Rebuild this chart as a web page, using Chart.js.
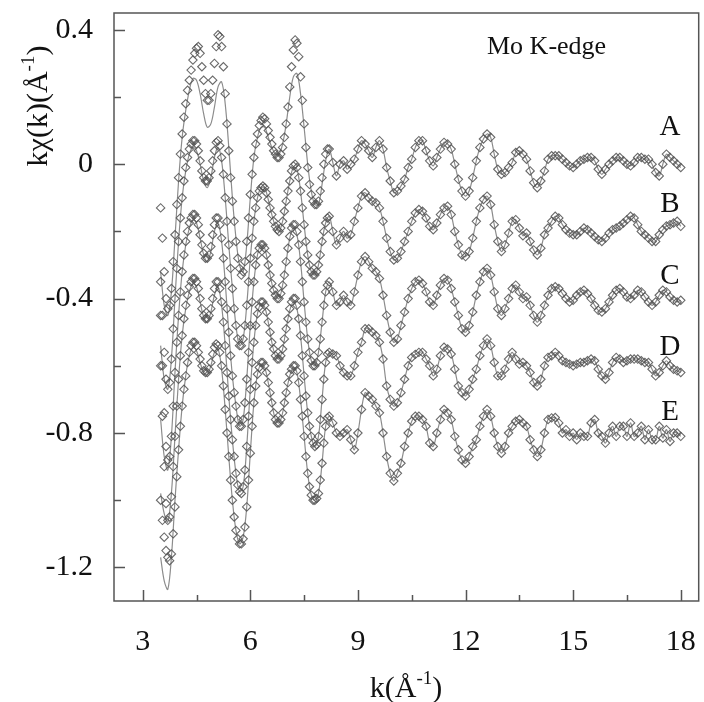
<!DOCTYPE html>
<html><head><meta charset="utf-8">
<script src="https://cdn.jsdelivr.net/npm/chart.js@4.4.1/dist/chart.umd.min.js"></script>
<style>html,body{margin:0;padding:0;background:#fff}#wrap{width:704px;height:702px;position:relative}</style>
</head><body><div id="wrap"><canvas id="c" width="704" height="702"></canvas></div>
<script>
// ---- data (relative to each curve's own vertical offset) ----
const seriesNames = ['A', 'B', 'C', 'D', 'E'];
const offsets = [0, -0.2, -0.4, -0.6, -0.8];
const xTickLabels = ['3', '6', '9', '12', '15', '18'];
const yTickLabels = ['0.4', '0', '-0.4', '-0.8', '-1.2'];

// low-k data: k = 3.50 ... 8.15, step 0.05
const lowA = [-0.13,-0.22,-0.32,-0.40,-0.43,-0.42,-0.37,-0.29,-0.21,-0.12,-0.04,0.03,0.09,0.14,0.18,0.22,0.25,0.28,0.31,0.33,0.345,0.35,0.33,0.29,0.25,0.21,0.19,0.19,0.21,0.25,0.30,0.35,0.385,0.38,0.35,0.29,0.21,0.12,0.04,-0.04,-0.11,-0.17,-0.23,-0.28,-0.31,-0.33,-0.32,-0.29,-0.23,-0.16,-0.09,-0.03,0.02,0.06,0.09,0.115,0.13,0.14,0.135,0.12,0.10,0.08,0.06,0.04,0.03,0.02,0.02,0.03,0.05,0.08,0.12,0.17,0.23,0.29,0.34,0.37,0.36,0.32,0.26,0.19,0.12,0.05,-0.01,-0.06,-0.09,-0.11,-0.12,-0.12,-0.11,-0.08,-0.04,0.0,0.03,0.045];
const lowB = [-0.15,-0.25,-0.36,-0.44,-0.47,-0.45,-0.38,-0.29,-0.2,-0.11,-0.03,0.04,0.1,0.15,0.19,0.22,0.245,0.26,0.27,0.27,0.26,0.24,0.21,0.18,0.16,0.15,0.15,0.16,0.18,0.21,0.24,0.265,0.27,0.255,0.22,0.17,0.1,0.03,-0.04,-0.11,-0.17,-0.23,-0.28,-0.32,-0.34,-0.34,-0.32,-0.28,-0.22,-0.15,-0.08,-0.02,0.03,0.07,0.1,0.12,0.13,0.135,0.13,0.115,0.095,0.07,0.05,0.03,0.015,0.005,0.0,0.01,0.03,0.06,0.09,0.12,0.15,0.18,0.195,0.2,0.19,0.16,0.12,0.07,0.02,-0.03,-0.07,-0.1,-0.12,-0.13,-0.13,-0.12,-0.1,-0.07,-0.03,0.0,0.025,0.04];
const lowC = [-0.05,-0.2,-0.34,-0.44,-0.48,-0.47,-0.41,-0.32,-0.22,-0.13,-0.05,0.02,0.08,0.13,0.17,0.2,0.225,0.24,0.25,0.25,0.24,0.22,0.19,0.16,0.135,0.12,0.12,0.13,0.155,0.19,0.22,0.24,0.24,0.22,0.18,0.12,0.05,-0.03,-0.1,-0.17,-0.23,-0.28,-0.32,-0.36,-0.38,-0.38,-0.36,-0.31,-0.24,-0.16,-0.08,-0.01,0.05,0.1,0.13,0.15,0.16,0.16,0.15,0.13,0.1,0.07,0.045,0.025,0.01,0.0,0.0,0.015,0.04,0.07,0.11,0.15,0.185,0.21,0.22,0.22,0.2,0.16,0.11,0.05,-0.01,-0.07,-0.12,-0.16,-0.185,-0.2,-0.2,-0.19,-0.16,-0.12,-0.07,-0.02,0.02,0.04];
const lowD = [0.0,-0.15,-0.3,-0.41,-0.46,-0.45,-0.39,-0.3,-0.21,-0.12,-0.04,0.03,0.09,0.14,0.18,0.21,0.235,0.25,0.26,0.26,0.25,0.23,0.2,0.17,0.15,0.14,0.14,0.15,0.17,0.2,0.23,0.25,0.25,0.23,0.19,0.13,0.06,-0.02,-0.09,-0.16,-0.22,-0.27,-0.32,-0.355,-0.375,-0.38,-0.36,-0.31,-0.24,-0.15,-0.07,0.01,0.07,0.12,0.155,0.175,0.19,0.19,0.18,0.16,0.13,0.1,0.07,0.05,0.03,0.02,0.02,0.03,0.05,0.08,0.11,0.14,0.17,0.19,0.2,0.2,0.18,0.14,0.09,0.03,-0.03,-0.09,-0.14,-0.18,-0.21,-0.23,-0.24,-0.235,-0.21,-0.16,-0.1,-0.04,0.01,0.035];
const lowE = [-0.2,-0.26,-0.31,-0.35,-0.37,-0.38,-0.36,-0.3,-0.22,-0.13,-0.05,0.02,0.08,0.13,0.17,0.21,0.24,0.26,0.27,0.27,0.26,0.24,0.22,0.2,0.185,0.18,0.18,0.19,0.21,0.235,0.255,0.265,0.26,0.24,0.2,0.14,0.07,0.0,-0.07,-0.14,-0.2,-0.25,-0.29,-0.315,-0.33,-0.33,-0.315,-0.28,-0.22,-0.14,-0.06,0.02,0.09,0.14,0.175,0.195,0.21,0.21,0.2,0.18,0.15,0.12,0.09,0.06,0.04,0.03,0.03,0.04,0.06,0.09,0.12,0.15,0.175,0.19,0.2,0.2,0.185,0.15,0.1,0.05,-0.01,-0.07,-0.12,-0.16,-0.185,-0.2,-0.2,-0.195,-0.18,-0.14,-0.09,-0.03,0.02,0.045];

// high-k data: k = 8.2 ... 18.0, step 0.1
const highA = [0.045,0.005,-0.035,0.0,0.01,-0.015,0.0,0.015,0.045,0.07,0.06,0.04,0.02,0.05,0.07,0.045,-0.01,-0.05,-0.085,-0.08,-0.065,-0.045,-0.01,0.015,0.05,0.07,0.07,0.04,0.01,-0.005,0.02,0.045,0.065,0.06,0.045,0.0,-0.045,-0.08,-0.095,-0.08,-0.04,0.01,0.05,0.075,0.09,0.08,0.03,-0.015,-0.03,-0.025,-0.01,0.005,0.035,0.04,0.03,0.015,-0.02,-0.055,-0.07,-0.05,-0.02,0.015,0.025,0.025,0.025,0.015,0.005,-0.005,-0.01,0.0,0.01,0.015,0.02,0.02,0.01,-0.015,-0.03,-0.015,0.0,0.01,0.02,0.02,0.01,0.0,-0.005,0.005,0.02,0.02,0.015,0.015,0.0,-0.025,-0.035,0.0,0.03,0.02,0.01,0.0,-0.01];
const highB = [0.045,0.0,-0.04,-0.02,0.0,-0.02,-0.01,0.03,0.07,0.105,0.115,0.1,0.09,0.085,0.07,0.03,-0.02,-0.06,-0.085,-0.08,-0.06,-0.03,0.0,0.03,0.055,0.065,0.06,0.04,0.015,0.005,0.025,0.05,0.07,0.075,0.05,0.0,-0.04,-0.07,-0.075,-0.06,-0.02,0.03,0.07,0.095,0.105,0.08,0.02,-0.03,-0.06,-0.04,-0.005,0.03,0.035,0.01,-0.013,-0.005,-0.03,-0.055,-0.07,-0.05,-0.01,0.01,0.03,0.045,0.04,0.02,0.005,-0.005,-0.01,-0.01,0.0,0.01,0.005,-0.005,-0.015,-0.025,-0.03,-0.02,-0.005,0.005,0.01,0.016,0.025,0.035,0.045,0.04,0.02,0.0,-0.01,-0.02,-0.03,-0.03,-0.01,0.005,0.016,0.02,0.025,0.03,0.015];
const highC = [0.05,0.02,-0.02,-0.01,0.01,-0.01,-0.02,0.02,0.07,0.11,0.125,0.11,0.09,0.08,0.06,0.01,-0.05,-0.1,-0.13,-0.12,-0.08,-0.04,0.0,0.03,0.05,0.055,0.045,0.02,-0.01,-0.02,0.01,0.04,0.06,0.055,0.03,-0.01,-0.05,-0.09,-0.1,-0.08,-0.04,0.01,0.05,0.08,0.09,0.07,0.02,-0.03,-0.05,-0.03,0.0,0.03,0.04,0.02,0.0,0.005,-0.02,-0.05,-0.07,-0.05,-0.02,0.01,0.03,0.035,0.03,0.015,0.0,-0.01,-0.005,0.01,0.02,0.025,0.015,0.0,-0.02,-0.035,-0.04,-0.03,-0.01,0.01,0.025,0.03,0.02,0.005,0.0,0.01,0.025,0.02,0.005,-0.01,-0.02,-0.01,0.01,0.025,0.02,0.005,-0.005,-0.01,-0.005];
const highD = [0.04,0.035,0.03,0.0,-0.02,-0.03,-0.03,0.0,0.04,0.07,0.11,0.11,0.1,0.09,0.07,0.02,-0.06,-0.1,-0.12,-0.11,-0.08,-0.04,0.0,0.025,0.034,0.04,0.04,0.02,0.0,-0.03,-0.01,0.03,0.055,0.05,0.035,-0.01,-0.06,-0.08,-0.09,-0.07,-0.04,-0.01,0.03,0.06,0.08,0.06,0.01,-0.03,-0.03,-0.01,0.02,0.04,0.02,0.005,0.01,0.0,-0.02,-0.05,-0.06,-0.04,0.0,0.025,0.03,0.04,0.03,0.015,0.01,0.005,0.0,0.005,0.01,0.01,0.015,0.02,0.015,-0.01,-0.03,-0.04,-0.02,0.01,0.025,0.02,0.01,0.015,0.02,0.02,0.02,0.015,0.01,0.01,-0.01,-0.03,-0.02,0.0,0.015,0.0,-0.01,-0.015,-0.02];
const highE = [0.05,0.03,0.0,-0.01,0.0,0.01,-0.02,-0.05,0.0,0.07,0.12,0.11,0.1,0.08,0.06,0.0,-0.07,-0.12,-0.143,-0.12,-0.09,-0.04,0.0,0.035,0.05,0.05,0.04,0.02,-0.03,-0.04,0.0,0.04,0.07,0.06,0.04,-0.01,-0.05,-0.08,-0.09,-0.07,-0.04,-0.02,0.02,0.05,0.07,0.05,0.0,-0.04,-0.06,-0.04,0.0,0.02,0.035,0.04,0.03,0.02,-0.02,-0.05,-0.07,-0.05,0.0,0.04,0.045,0.046,0.03,0.0,0.01,-0.01,0.0,-0.02,0.0,-0.01,-0.01,0.03,0.04,0.0,-0.01,-0.03,0.0,0.02,-0.01,0.02,0.02,-0.01,0.03,-0.01,0.0,0.02,-0.02,0.01,-0.02,-0.02,0.02,-0.015,0.01,-0.025,0.0,0.0,-0.01];

// fitted curves at low k: k = 3.5 ... 8.1, step 0.1 (above 8.1 the fit follows the data)
const fitA = [-0.32,-0.42,-0.45,-0.38,-0.22,-0.05,0.08,0.16,0.22,0.255,0.25,0.21,0.15,0.11,0.12,0.17,0.23,0.245,0.18,0.05,-0.10,-0.22,-0.30,-0.32,-0.24,-0.10,0.02,0.08,0.11,0.11,0.08,0.05,0.03,0.03,0.06,0.12,0.20,0.26,0.27,0.21,0.11,0.0,-0.08,-0.12,-0.12,-0.06,0.01];
const fitB = [-0.34,-0.44,-0.47,-0.38,-0.2,-0.03,0.1,0.18,0.23,0.25,0.24,0.2,0.15,0.13,0.16,0.22,0.25,0.21,0.1,-0.04,-0.17,-0.28,-0.34,-0.32,-0.22,-0.08,0.03,0.1,0.13,0.13,0.095,0.05,0.015,0.0,0.03,0.09,0.15,0.19,0.185,0.12,0.02,-0.07,-0.12,-0.13,-0.1,-0.03,0.025];
const fitC = [-0.36,-0.47,-0.51,-0.41,-0.22,-0.05,0.08,0.16,0.21,0.235,0.225,0.18,0.13,0.11,0.14,0.2,0.225,0.17,0.05,-0.1,-0.23,-0.32,-0.38,-0.36,-0.24,-0.08,0.05,0.13,0.16,0.15,0.1,0.045,0.01,0.0,0.04,0.11,0.18,0.21,0.19,0.11,-0.01,-0.12,-0.185,-0.2,-0.16,-0.07,0.02];
const fitD = [-0.38,-0.44,-0.465,-0.38,-0.21,-0.04,0.09,0.17,0.22,0.245,0.235,0.19,0.145,0.13,0.16,0.21,0.235,0.18,0.06,-0.09,-0.22,-0.32,-0.375,-0.36,-0.24,-0.07,0.07,0.155,0.185,0.175,0.13,0.07,0.03,0.02,0.05,0.11,0.165,0.19,0.17,0.09,-0.03,-0.14,-0.21,-0.24,-0.21,-0.1,0.01];
const fitE = [-0.37,-0.44,-0.465,-0.37,-0.2,-0.05,0.08,0.17,0.23,0.255,0.245,0.21,0.18,0.175,0.2,0.24,0.25,0.19,0.07,-0.07,-0.2,-0.29,-0.33,-0.31,-0.22,-0.06,0.09,0.175,0.205,0.195,0.15,0.09,0.04,0.03,0.06,0.12,0.17,0.195,0.18,0.1,-0.01,-0.12,-0.185,-0.2,-0.18,-0.09,0.02];

const lowData = [lowA, lowB, lowC, lowD, lowE];
const highData = [highA, highB, highC, highD, highE];
const fitData = [fitA, fitB, fitC, fitD, fitE];
const labelY = [0.11, -0.12, -0.335, -0.545, -0.74];   // y of the A..E letters

// ---- build datasets ----
const r2 = v => Math.round(v * 100) / 100;
function pts(arr, k0, dk, off) { return arr.map((v, i) => ({ x: r2(k0 + i * dk), y: v + off })); }

const datasets = [];
seriesNames.forEach((name, s) => {
  const off = offsets[s];
  const dataPts = pts(lowData[s], 3.5, 0.05, off).concat(pts(highData[s], 8.2, 0.1, off));
  const fitPts = pts(fitData[s], 3.5, 0.1, off).concat(pts(highData[s], 8.2, 0.1, off));
  datasets.push({
    label: name + ' fit', data: fitPts, showLine: true, pointRadius: 0,
    borderColor: '#8c8c8c', borderWidth: 1.2, tension: 0.35, fill: false, order: 2
  });
  datasets.push({
    label: name, data: dataPts, showLine: false, pointStyle: 'rectRot', pointRadius: 4.2,
    pointBorderWidth: 1.1, pointBorderColor: 'rgba(85,85,85,0.88)', pointBackgroundColor: 'rgba(0,0,0,0)', order: 1
  });
});

const SERIF = '"Liberation Serif", "Times New Roman", serif';

const framePlugin = {
  id: 'frame',
  afterDraw(chart) {
    const { ctx, chartArea: a, scales: { x, y } } = chart;
    ctx.save();
    ctx.strokeStyle = '#555';
    ctx.lineWidth = 1.5;
    ctx.strokeRect(a.left, a.top, a.right - a.left, a.bottom - a.top);
    ctx.beginPath();
    x.ticks.forEach(t => {
      const px = Math.round(x.getPixelForValue(t.value)) + 0.5;
      const major = Math.abs(t.value / 3 - Math.round(t.value / 3)) < 1e-6;
      ctx.moveTo(px, a.bottom); ctx.lineTo(px, a.bottom - (major ? 11 : 6));
    });
    y.ticks.forEach(t => {
      const py = Math.round(y.getPixelForValue(t.value)) + 0.5;
      const major = Math.abs(t.value / 0.4 - Math.round(t.value / 0.4)) < 1e-6;
      ctx.moveTo(a.left, py); ctx.lineTo(a.left + (major ? 11 : 7), py);
    });
    ctx.stroke();

    ctx.fillStyle = '#111';
    ctx.font = '29px ' + SERIF;
    ctx.textAlign = 'center'; ctx.textBaseline = 'middle';
    seriesNames.forEach((n, s) => ctx.fillText(n, x.getPixelForValue(17.7), y.getPixelForValue(labelY[s])));
    ctx.textAlign = 'left'; ctx.textBaseline = 'alphabetic';
    ctx.font = '26px ' + SERIF;
    ctx.fillText('Mo K-edge', 487, 54);

    function measure(base, sup, close, size) {
      ctx.font = size + 'px ' + SERIF;
      const w1 = ctx.measureText(base).width;
      ctx.font = Math.round(size * 0.62) + 'px ' + SERIF;
      const w2 = ctx.measureText(sup).width;
      ctx.font = size + 'px ' + SERIF;
      const w3 = ctx.measureText(close).width;
      return { w1, w2, w3, total: w1 + w2 + w3 };
    }
    function drawSup(base, sup, close, size, cx, cy) {
      const m = measure(base, sup, close, size);
      const x0 = cx - m.total / 2;
      ctx.textAlign = 'left'; ctx.textBaseline = 'alphabetic';
      ctx.font = size + 'px ' + SERIF; ctx.fillText(base, x0, cy);
      ctx.font = Math.round(size * 0.62) + 'px ' + SERIF; ctx.fillText(sup, x0 + m.w1, cy - size * 0.42);
      ctx.font = size + 'px ' + SERIF; ctx.fillText(close, x0 + m.w1 + m.w2, cy);
    }
    drawSup('k(Å', '-1', ')', 30, 406, 697);
    ctx.save();
    ctx.translate(47, 106);
    ctx.rotate(-Math.PI / 2);
    drawSup('kχ(k)(Å', '-1', ')', 30, 0, 0);
    ctx.restore();
    ctx.restore();
  }
};

new Chart(document.getElementById('c'), {
  type: 'scatter',
  data: { datasets },
  plugins: [framePlugin],
  options: {
    responsive: false, animation: false,
    layout: { padding: { left: 0, top: 13, right: 1, bottom: 0 } },
    plugins: { legend: { display: false }, tooltip: { enabled: false } },
    scales: {
      x: {
        type: 'linear', min: 2.2, max: 18.5,
        afterFit: s => { s.height = 101; s.paddingLeft = 0; s.paddingRight = 0; },
        grid: { display: false, drawTicks: false }, border: { display: false },
        ticks: {
          stepSize: 1.5, includeBounds: false, autoSkip: false, maxRotation: 0, padding: 23,
          color: '#111', font: { family: SERIF, size: 30 },
          callback: v => (Math.abs(v / 3 - Math.round(v / 3)) < 1e-6 ? xTickLabels[Math.round(v / 3) - 1] : '')
        }
      },
      y: {
        type: 'linear', min: -1.3, max: 0.45,
        afterFit: s => { s.width = 114; s.paddingTop = 0; s.paddingBottom = 0; },
        grid: { display: false, drawTicks: false }, border: { display: false },
        ticks: {
          stepSize: 0.2, includeBounds: false, autoSkip: false, padding: 21,
          color: '#111', font: { family: SERIF, size: 30 },
          callback: v => (Math.abs(v / 0.4 - Math.round(v / 0.4)) < 1e-6 ? yTickLabels[1 - Math.round(v / 0.4)] : '')
        }
      }
    }
  }
});
</script></body></html>
